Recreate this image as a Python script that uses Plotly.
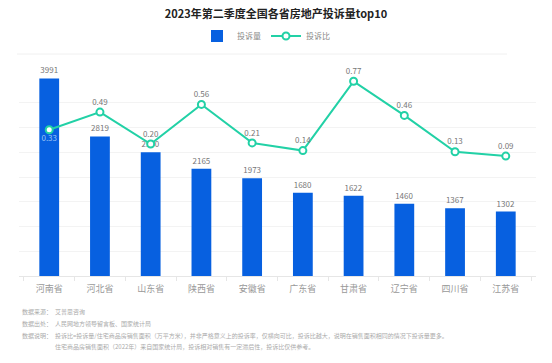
import plotly.graph_objects as go

provinces = ["河南省", "河北省", "山东省", "陕西省", "安徽省", "广东省", "甘肃省", "辽宁省", "四川省", "江苏省"]
complaints = [3991, 2819, 2500, 2165, 1973, 1680, 1622, 1460, 1367, 1302]
ratio = [0.33, 0.49, 0.20, 0.56, 0.21, 0.14, 0.77, 0.46, 0.13, 0.09]
ratio_labels = ["0.33", "0.49", "0.20", "0.56", "0.21", "0.14", "0.77", "0.46", "0.13", "0.09"]

FONT = "Noto Sans CJK SC"
BLUE = "#0760e0"
TEAL = "#22d1a6"

W, H = 552, 363
L, R, T, B = 19, 16, 78, 87
PW, PH = W - L - R, H - T - B


def px(xp):
    return (xp - L) / PW


def py(yp):
    return (H - B - yp) / PH


fig = go.Figure()
fig.add_trace(go.Bar(
    x=provinces, y=complaints, name="投诉量",
    marker=dict(color=BLUE, line=dict(width=0)),
    width=0.39,
    text=[str(v) for v in complaints], textposition="outside",
    textfont=dict(size=8, color="#777777", family=FONT),
    cliponaxis=False, constraintext="none",
))
pos = ["bottom center"] + ["top center"] * (len(ratio) - 1)
cols = ["#9cc4f5"] + ["#777777"] * (len(ratio) - 1)
fig.add_trace(go.Scatter(
    x=provinces, y=ratio, name="投诉比", yaxis="y2",
    mode="lines+markers+text",
    line=dict(color=TEAL, width=2),
    marker=dict(size=7, color="white", line=dict(color=TEAL, width=2)),
    text=ratio_labels, textposition=pos,
    textfont=dict(size=8, color=cols, family=FONT),
    cliponaxis=False,
))

fig.update_layout(
    width=W, height=H,
    margin=dict(l=L, r=R, t=T, b=B),
    paper_bgcolor="white", plot_bgcolor="white",
    font=dict(family=FONT, color="#888888"),
    title=dict(text="<b>2023年第二季度全国各省房地产投诉量top10</b>",
               x=0.5, xanchor="center", y=1 - 14.5 / H, yanchor="middle",
               font=dict(size=11, color="#222222", family=FONT)),
    legend=dict(orientation="h", x=px(197), xanchor="left", y=py(36), yanchor="middle",
                font=dict(size=8, color="#888888", family=FONT),
                itemwidth=30, tracegroupgap=0, bgcolor="rgba(0,0,0,0)"),
    xaxis=dict(showgrid=False, showline=True, linecolor="#e6e6e6", linewidth=1,
               ticks="outside", tickson="boundaries", ticklen=4, tickcolor="#e6e6e6",
               ticklabelstandoff=4,
               tickfont=dict(size=9, color="#999999", family=FONT)),
    yaxis=dict(range=[0, 4000], dtick=500, showgrid=True, gridcolor="#f3f3f3",
               showticklabels=False, zeroline=False, showline=False),
    yaxis2=dict(range=[-1.0, 0.8], overlaying="y", side="right", showgrid=False,
                showticklabels=False, zeroline=False, showline=False),
    shapes=[dict(type="line", xref="paper", yref="paper", x0=px(17), x1=px(507),
                 y0=py(54), y1=py(54), line=dict(color="#f0f0f0", width=1))],
)

notes = [
    (311.7, "数据来源：", "艾普思咨询"),
    (323.3, "数据出处：", "人民网地方领导留言板、国家统计局"),
    (335.0, "数据说明：", "投诉比=投诉量/住宅商品房销售面积（万平方米），并非严格意义上的投诉率，仅横向可比，投诉比越大，说明在销售面积相同的情况下投诉量更多。"),
    (346.7, "", "住宅商品房销售面积（2022年）来自国家统计局，投诉相对销售有一定滞后性，投诉比仅供参考。"),
]
for y, lab, t in notes:
    if lab:
        fig.add_annotation(text=lab, xref="paper", yref="paper", x=px(20), y=py(y),
                           xanchor="left", yanchor="middle", showarrow=False,
                           font=dict(size=6, color="#aaaaaa", family=FONT))
    fig.add_annotation(text=t, xref="paper", yref="paper", x=px(53), y=py(y),
                       xanchor="left", yanchor="middle", showarrow=False,
                       font=dict(size=6, color="#aaaaaa", family=FONT))

fig.write_html("out.html", config={"displayModeBar": False},
               post_script="document.body.style.margin='0';document.body.style.overflow='hidden';")
